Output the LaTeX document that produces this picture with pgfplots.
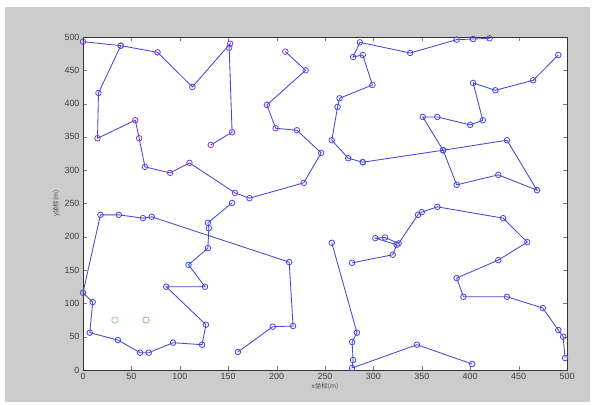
\documentclass[border=0pt]{standalone}
\usepackage{pgfplots}
\pgfplotsset{compat=1.18}
\usepackage{fontspec}
\setmainfont{Liberation Sans}
\newfontfamily\cjk{Noto Sans CJK SC}
\definecolor{figgray}{RGB}{204,204,204}
\definecolor{lineblue}{RGB}{70,70,215}
\definecolor{markblue}{RGB}{70,70,225}
\definecolor{markviolet}{RGB}{125,55,225}
\definecolor{gmark}{RGB}{120,200,110}
\definecolor{rmark}{RGB}{205,120,95}
\pgfplotsset{
  route/.style={line width=0.85pt, color=lineblue, mark=o, mark size=2.8pt,
     mark options={solid, draw=markblue, fill=none, line width=0.8pt}},
  vroute/.style={route, mark options={solid, draw=markviolet, fill=none, line width=0.8pt}},
}
\begin{document}
\begin{tikzpicture}[x=1bp,y=1bp]
\fill[white] (0,0) rectangle (592,404);
\fill[figgray] (5,2) rectangle (590,397);
\begin{axis}[
  at={(83bp,34bp)}, anchor=south west,
  width=484bp, height=333bp, scale only axis,
  xmin=0, xmax=500, ymin=0, ymax=500,
  xtick={0,50,...,500}, ytick={0,50,...,500},
  tick pos=both, tick align=inside,
  major tick length=4bp,
  axis line style={black!80, line width=0.6pt},
  axis background/.style={fill=white},
  tick label style={font=\fontsize{9}{10}\selectfont, text=black!75},
  /pgf/number format/assume math mode=true,
  xlabel={\cjk\fontsize{6.5}{7}\selectfont x坐标(m)},
  ylabel={\cjk\fontsize{6.5}{7}\selectfont y坐标(m)},
  xlabel style={yshift=4bp, text=black!70},
  ylabel style={yshift=-2bp, text=black!70},
  clip=false,
]
% top-left route
\addplot[vroute] coordinates {(0,493) (39,487) (77,477) (113,425) (152,490) (151,484) (154,357) (132,338)};
\addplot[vroute] coordinates {(39,487) (16,416) (15,348) (54,375) (58,348) (64,305) (90,296) (110,311) (157,266) (172,258) (228,281) (246,326) (221,360) (199,363) (190,398) (230,450) (209,478)};
% top-right routes
\addplot[route] coordinates {(289,312) (274,318) (257,345) (263,395) (265,408) (299,428) (289,473) (279,470) (286,492) (338,476) (386,496) (403,497) (420,498)};
\addplot[route] coordinates {(289,312) (372,330) (438,345) (469,270) (429,293) (386,278) (372,330) (351,380) (366,380) (400,368) (413,375) (403,431) (426,420) (465,435) (491,473)};
% lower-left route
\addplot[route] coordinates {(160,27) (196,65) (217,66) (213,162) (71,230) (62,228) (37,233) (18,233) (0,116) (10,102) (7,56) (36,45) (59,26) (68,26) (93,41) (123,38) (127,68) (86,125) (126,125) (109,158) (129,183) (130,213) (129,221) (154,251)};
% lower-right routes
\addplot[route] coordinates {(257,191) (283,56) (278,42) (279,15) (278,3) (345,38) (402,9)};
\addplot[route] coordinates {(278,161) (320,173) (324,188) (302,198) (312,199) (326,190) (346,233) (350,237) (366,245) (434,228) (459,192) (429,165) (386,138) (393,110) (438,110) (475,93) (491,60) (496,50) (498,18)};
% depots
\addplot[only marks, mark=o, mark size=3.2pt, mark options={draw=gmark, fill=none, line width=0.6pt}] coordinates {(33,75)};
\addplot[only marks, mark=o, mark size=3.2pt, mark options={draw=rmark, fill=none, line width=0.6pt}] coordinates {(65,75)};
\end{axis}
\end{tikzpicture}
\end{document}
